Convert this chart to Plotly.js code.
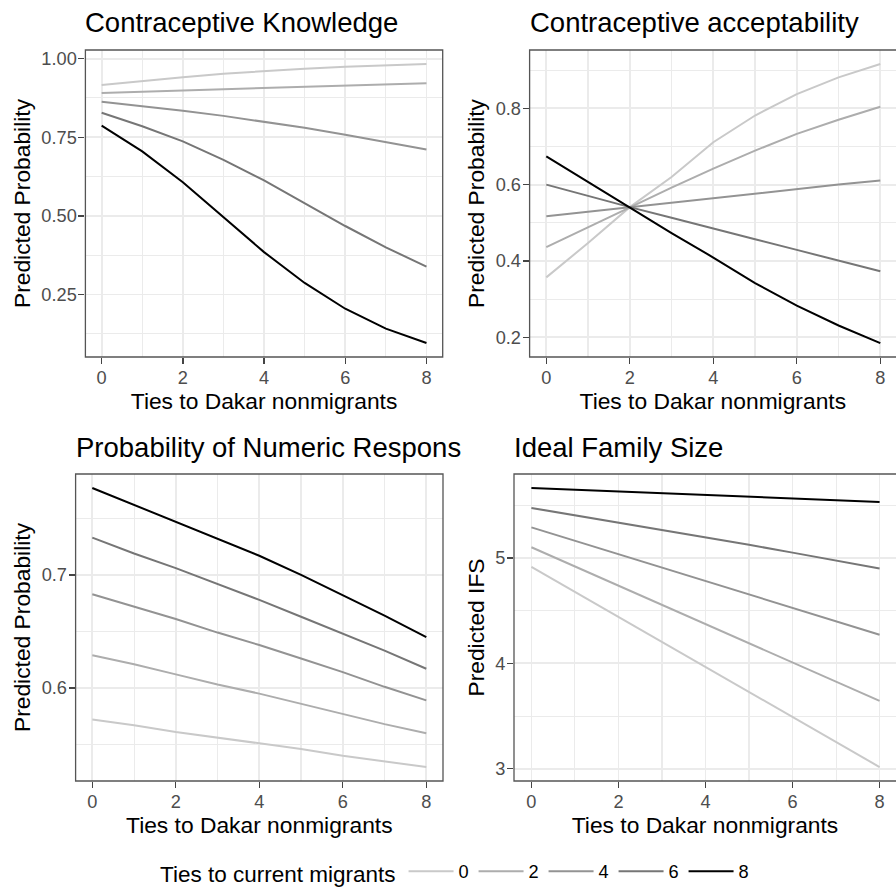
<!DOCTYPE html>
<html>
<head>
<meta charset="utf-8">
<script src="https://cdn.plot.ly/plotly-3.0.1.min.js"></script>
<style>
  html, body { margin: 0; padding: 0; background: #fff; }
  #chart { width: 896px; height: 893px; }
</style>
</head>
<body>
<div id="chart"></div>
<script>
// ---------------- data ----------------
const tiesNonmigrants = [0, 1, 2, 3, 4, 5, 6, 7, 8];
const migrantLevels = ['0', '2', '4', '6', '8'];

// Contraceptive Knowledge
const knowledge0 = [0.916, 0.929, 0.941, 0.952, 0.961, 0.968, 0.974, 0.979, 0.983];
const knowledge2 = [0.891, 0.895, 0.899, 0.903, 0.907, 0.911, 0.915, 0.918, 0.922];
const knowledge4 = [0.863, 0.849, 0.834, 0.818, 0.800, 0.780, 0.758, 0.735, 0.711];
const knowledge6 = [0.828, 0.785, 0.737, 0.678, 0.613, 0.541, 0.468, 0.400, 0.339];
const knowledge8 = [0.787, 0.705, 0.607, 0.497, 0.385, 0.287, 0.205, 0.142, 0.096];

// Contraceptive acceptability
const accept0 = [0.357, 0.447, 0.541, 0.620, 0.711, 0.781, 0.837, 0.881, 0.916];
const accept2 = [0.436, 0.488, 0.541, 0.592, 0.642, 0.689, 0.733, 0.770, 0.804];
const accept4 = [0.517, 0.529, 0.541, 0.553, 0.565, 0.577, 0.588, 0.600, 0.611];
const accept6 = [0.600, 0.570, 0.541, 0.513, 0.486, 0.457, 0.429, 0.401, 0.373];
const accept8 = [0.674, 0.607, 0.541, 0.473, 0.409, 0.342, 0.283, 0.231, 0.185];

// Probability of Numeric Response
const numeric0 = [0.572, 0.567, 0.561, 0.556, 0.551, 0.546, 0.540, 0.535, 0.530];
const numeric2 = [0.629, 0.621, 0.612, 0.603, 0.595, 0.586, 0.577, 0.568, 0.560];
const numeric4 = [0.683, 0.672, 0.661, 0.649, 0.638, 0.626, 0.614, 0.601, 0.589];
const numeric6 = [0.733, 0.719, 0.706, 0.692, 0.678, 0.663, 0.648, 0.633, 0.617];
const numeric8 = [0.777, 0.762, 0.747, 0.732, 0.717, 0.700, 0.682, 0.664, 0.645];

// Ideal Family Size
const ifs0 = [4.915, 4.678, 4.440, 4.203, 3.966, 3.729, 3.491, 3.254, 3.017];
const ifs2 = [5.101, 4.919, 4.737, 4.555, 4.373, 4.191, 4.008, 3.826, 3.644];
const ifs4 = [5.289, 5.162, 5.035, 4.908, 4.780, 4.653, 4.526, 4.399, 4.272];
const ifs6 = [5.474, 5.405, 5.336, 5.267, 5.198, 5.124, 5.050, 4.975, 4.900];
const ifs8 = [5.663, 5.646, 5.630, 5.613, 5.597, 5.580, 5.564, 5.547, 5.531];

const panelTitles = ['Contraceptive Knowledge', 'Contraceptive acceptability',
                     'Probability of Numeric Respons', 'Ideal Family Size'];
const yTitles = ['Predicted Probability', 'Predicted Probability', 'Predicted Probability', 'Predicted IFS'];
const xTitle = 'Ties to Dakar nonmigrants';
const legendTitle = 'Ties to current migrants';

// ---------------- styling ----------------
const FONT = 'Liberation Sans, Arial, Helvetica, sans-serif';
const lineColors = ['#c9c9c9', '#adadad', '#939393', '#767676', '#000000'];
const W = 896, H = 893;

const panels = [
  { series: [knowledge0, knowledge2, knowledge4, knowledge6, knowledge8],
    px: [85.4, 442.7], py: [50, 357], ticks: [0.25, 0.5, 0.75, 1.0], fmt: '.2f', minor: 0.125 },
  { series: [accept0, accept2, accept4, accept6, accept8],
    px: [529.6, 897], py: [50, 357], ticks: [0.2, 0.4, 0.6, 0.8], fmt: '.1f', minor: 0.1 },
  { series: [numeric0, numeric2, numeric4, numeric6, numeric8],
    px: [75.6, 443], py: [474, 781], ticks: [0.6, 0.7], fmt: '.1f', minor: 0.05 },
  { series: [ifs0, ifs2, ifs4, ifs6, ifs8],
    px: [514, 897], py: [474, 781], ticks: [3, 4, 5], fmt: 'd', minor: 0.5 }
];

const traces = [];
const layout = {
  width: W, height: H,
  margin: { l: 0, r: 0, t: 0, b: 0 },
  paper_bgcolor: '#ffffff', plot_bgcolor: '#ffffff',
  font: { family: FONT, color: '#000000' },
  showlegend: true,
  legend: {
    orientation: 'h', x: 0.509, xanchor: 'center', y: 1 - 873 / H, yanchor: 'middle',
    title: { text: legendTitle, side: 'left', font: { size: 22.5, color: '#000', family: FONT } },
    font: { size: 18.2, color: '#000', family: FONT },
    itemwidth: 45, entrywidth: 10, bgcolor: 'rgba(0,0,0,0)'
  },
  annotations: [],
  shapes: []
};

panels.forEach((p, i) => {
  const n = i + 1;
  const xa = n === 1 ? 'x' : 'x' + n;
  const ya = n === 1 ? 'y' : 'y' + n;
  p.series.forEach((vals, j) => {
    traces.push({
      type: 'scatter', mode: 'lines', x: tiesNonmigrants, y: vals,
      xaxis: xa, yaxis: ya, name: migrantLevels[j],
      line: { color: lineColors[j], width: 2 },
      showlegend: i === 0, legendgroup: migrantLevels[j], hoverinfo: 'skip'
    });
  });
  // ggplot-like 5% expansion
  const all = [].concat(...p.series);
  const mn = Math.min(...all), mx = Math.max(...all);
  const pad = 0.05 * (mx - mn);
  const xmin = -0.4, xmax = 8.4;
  const pxPerUnit = (p.px[1] - p.px[0]) / (xmax - xmin);
  const right = Math.min(p.px[1], W);
  const xRangeEnd = xmin + (right - p.px[0]) / pxPerUnit;

  const common = {
    showline: false,
    ticks: 'outside', ticklen: 6, tickwidth: 1.3, tickcolor: '#444444',
    tickfont: { size: 18.2, color: '#4D4D4D', family: FONT },
    ticklabelstandoff: -2,
    showgrid: true, gridcolor: '#EBEBEB', gridwidth: 1.8, zeroline: false,
    fixedrange: true
  };
  layout['xaxis' + (n === 1 ? '' : n)] = Object.assign({}, common, {
    anchor: ya, domain: [p.px[0] / W, right / W],
    range: [xmin, xRangeEnd], tickvals: [0, 2, 4, 6, 8], ticktext: ['0', '2', '4', '6', '8'],
    minor: { dtick: 1, tick0: 0, showgrid: true, gridcolor: '#EBEBEB', gridwidth: 1.1 },
    title: { text: xTitle, font: { size: 22.8, color: '#000', family: FONT }, standoff: 0 }
  });
  layout['yaxis' + (n === 1 ? '' : n)] = Object.assign({}, common, {
    anchor: xa, domain: [1 - p.py[1] / H, 1 - p.py[0] / H],
    range: [mn - pad, mx + pad], tickvals: p.ticks, tickformat: p.fmt,
    minor: { dtick: p.minor, tick0: 0, showgrid: true, gridcolor: '#EBEBEB', gridwidth: 1.1 },
    title: { text: yTitles[i], font: { size: 22.8, color: '#000', family: FONT }, standoff: 4 }
  });
  // panel border (theme_bw), right side may fall outside the picture
  layout.shapes.push({
    type: 'rect', xref: xa + ' domain', yref: ya + ' domain',
    x0: 0, x1: (p.px[1] - p.px[0]) / (right - p.px[0]), y0: 0, y1: 1,
    line: { color: '#555555', width: 1.3 }, fillcolor: 'rgba(0,0,0,0)', layer: 'above'
  });
  layout.annotations.push({
    xref: xa + ' domain', yref: ya + ' domain', x: 0, y: 1, xanchor: 'left', yanchor: 'middle',
    yshift: 27, xshift: -2, showarrow: false, text: panelTitles[i],
    font: { size: 27.5, color: '#000', family: FONT }
  });
});

Plotly.newPlot('chart', traces, layout, { staticPlot: true, displayModeBar: false });
</script>
</body>
</html>
